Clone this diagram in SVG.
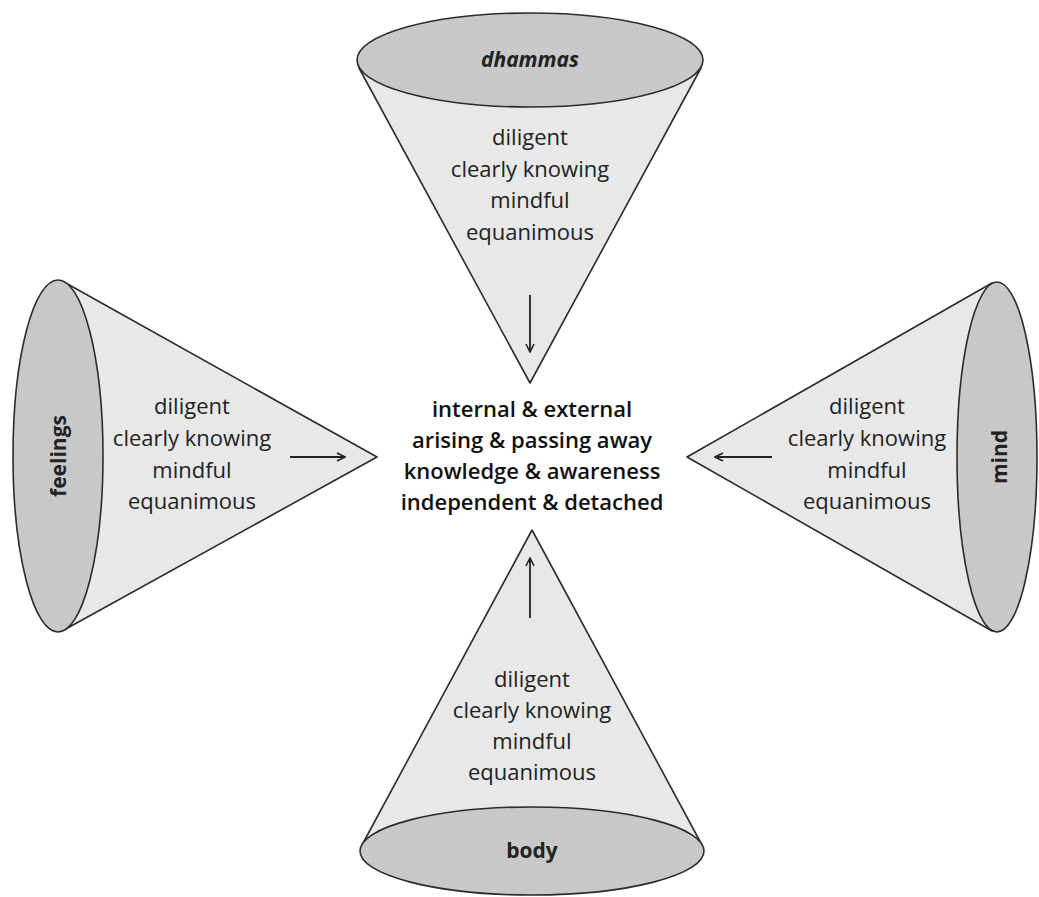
<svg xmlns="http://www.w3.org/2000/svg" width="1039" height="897" viewBox="0 0 1039 897">
<style>
.body{fill:#e8e8e8;stroke:#2b2b2b;stroke-width:1.6;stroke-linejoin:round}
.base{fill:#c8c8c8;stroke:#2b2b2b;stroke-width:1.6}
.t{font-family:"Open Sans","Noto Sans","Liberation Sans",sans-serif;font-size:22px;fill:#222;text-anchor:middle}
.c{font-family:"Open Sans","Noto Sans","Liberation Sans",sans-serif;font-size:22px;font-weight:600;fill:#111;text-anchor:middle}
.lbl{font-family:"Open Sans","Noto Sans","Liberation Sans",sans-serif;font-size:21px;font-weight:700;fill:#222;text-anchor:middle}
.arr{stroke:#222;stroke-width:1.8;fill:none;marker-end:url(#ah)}
</style>
<defs>
<marker id="ah" viewBox="0 0 10 10" refX="9" refY="5" markerWidth="10" markerHeight="10" markerUnits="userSpaceOnUse" orient="auto">
<path d="M1,1 L9,5 L1,9" fill="none" stroke="#222" stroke-width="1.6"/>
</marker>
</defs>
<rect width="1039" height="897" fill="#fff"/>
<g id="dhammas">
<polygon class="body" points="359,68 530,383 701,68"/>
<ellipse class="base" cx="530" cy="60" rx="173" ry="47"/>
<text class="lbl" x="530" y="67" font-style="italic">dhammas</text>
<text class="t" x="530" y="145">diligent</text>
<text class="t" x="530" y="177">clearly knowing</text>
<text class="t" x="530" y="208">mindful</text>
<text class="t" x="530" y="240">equanimous</text>
</g>
<g id="feelings">
<polygon class="body" points="64,282 377,457 64,630"/>
<ellipse class="base" cx="58" cy="456" rx="45" ry="176"/>
<text class="lbl" transform="translate(66,456) rotate(-90)" x="0" y="0">feelings</text>
<text class="t" x="192" y="414">diligent</text>
<text class="t" x="192" y="446">clearly knowing</text>
<text class="t" x="192" y="478">mindful</text>
<text class="t" x="192" y="509">equanimous</text>
</g>
<g id="mind">
<polygon class="body" points="992,283 687,457 992,631"/>
<ellipse class="base" cx="997" cy="457" rx="40" ry="175"/>
<text class="lbl" transform="translate(1007,457) rotate(-90)" x="0" y="0">mind</text>
<text class="t" x="867" y="414">diligent</text>
<text class="t" x="867" y="446">clearly knowing</text>
<text class="t" x="867" y="478">mindful</text>
<text class="t" x="867" y="509">equanimous</text>
</g>
<g id="body">
<polygon class="body" points="362,845 532,530 702,845"/>
<ellipse class="base" cx="532" cy="851" rx="172" ry="44"/>
<text class="lbl" x="532" y="858">body</text>
<text class="t" x="532" y="687">diligent</text>
<text class="t" x="532" y="718">clearly knowing</text>
<text class="t" x="532" y="749">mindful</text>
<text class="t" x="532" y="780">equanimous</text>
</g>
<g id="center">
<text class="c" x="532" y="417">internal &amp; external</text>
<text class="c" x="532" y="448">arising &amp; passing away</text>
<text class="c" x="532" y="479">knowledge &amp; awareness</text>
<text class="c" x="532" y="510">independent &amp; detached</text>
</g>
<g id="connectors">
<line class="arr" x1="530" y1="295" x2="530" y2="352"/>
<line class="arr" x1="290" y1="457" x2="345" y2="457"/>
<line class="arr" x1="772" y1="457" x2="715" y2="457"/>
<line class="arr" x1="530" y1="618" x2="530" y2="558"/>
</g>
</svg>
